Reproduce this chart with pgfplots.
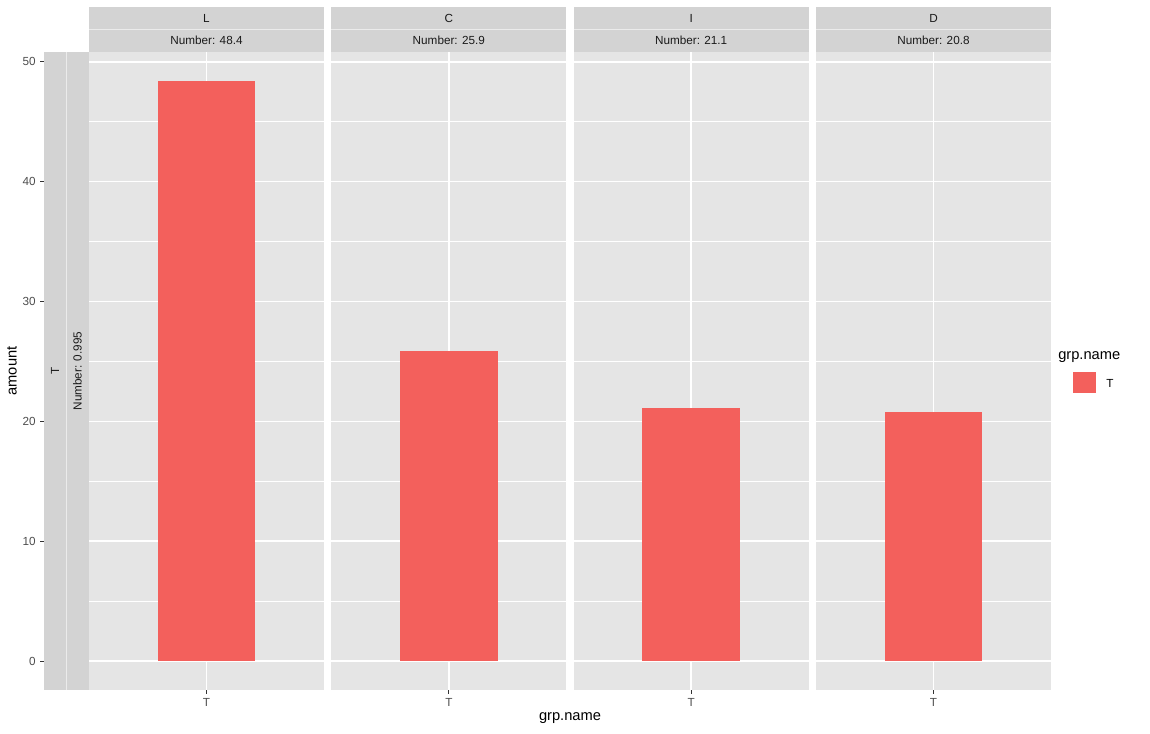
\documentclass[border=0pt]{standalone}
\usepackage{pgfplots}
\pgfplotsset{compat=1.18}
\usepackage{fontspec}
\setmainfont{Liberation Sans}
\definecolor{panelbg}{HTML}{E5E5E5}
\definecolor{stripbg}{HTML}{D3D3D3}
\definecolor{barcol}{HTML}{F3605C}
\definecolor{g30}{HTML}{4D4D4D}
\definecolor{g20}{HTML}{333333}
\definecolor{g10}{HTML}{1A1A1A}
\newcommand{\smf}{\fontsize{8.8}{10}\selectfont}
\newcommand{\lgf}{\fontsize{11}{13}\selectfont}
\pgfplotsset{panel/.style={
  scale only axis, width=176.25pt, height=478.5pt, anchor=south west,
  xmin=0.4, xmax=1.6, ymin=-2.42, ymax=50.82,
  axis lines*=left, axis line style={draw=none},
  axis background/.style={fill=panelbg},
  xtick={1}, xticklabels={T},
  ytick={0,10,...,50}, minor ytick={5,15,...,45}, yticklabels={},
  xmajorgrids, ymajorgrids, yminorgrids,
  major grid style={white, line width=1.07pt},
  minor grid style={white, line width=0.53pt},
  tick align=outside, major tick length=2.75pt, minor tick length=0pt,
  xtick style={g20, line width=0.53pt}, ytick style={draw=none},
  xticklabel style={font=\smf, text=g30},
}}
\begin{document}
\begin{tikzpicture}
\path[use as bounding box] (0,0) rectangle (862.5pt,-550.5pt);
% strips
\begin{scope}[x=0.75pt, y=-0.75pt]
  \foreach \L/\lab/\num in {89/L/48.4, 331.33/C/25.9, 573.67/I/21.1, 816/D/20.8}{
    \fill[stripbg] (\L,7) rectangle ({\L+235},52);
    \draw[white!55!stripbg, line width=0.5pt] (\L,29.5) -- ({\L+235},29.5);
    \node[font=\smf, text=g10] at ({\L+117.5},18.5) {\lab};
    \node[font=\smf, text=g10] at ({\L+117.5},40.5) {Number: \num};
  }
  \fill[stripbg] (44,52) rectangle (89,690);
  \draw[white!55!stripbg, line width=0.5pt] (66.5,52) -- (66.5,690);
  \node[font=\smf, text=g10, rotate=90] at (55,371) {T};
  \node[font=\smf, text=g10, rotate=90] at (77.5,371) {Number: 0.995};
  % titles
  \node[font=\lgf, rotate=90] at (12,371) {amount};
  \node[font=\lgf] at (570,718) {grp.name};
  % legend
  \node[font=\lgf, anchor=west, inner sep=0pt] at (1058,357) {grp.name};
  \fill[barcol] (1073,372) rectangle (1096,393);
  \node[font=\smf, anchor=west, inner sep=0pt] at (1106,383) {T};
\end{scope}
% y tick axis
\begin{axis}[scale only axis, width=33.75pt, height=478.5pt, anchor=south west,
  at={(33pt,-517.5pt)}, xmin=0, xmax=1, ymin=-2.42, ymax=50.82,
  axis lines*=left, axis line style={draw=none}, xtick=\empty,
  ytick={0,10,...,50}, tick align=outside, major tick length=2.75pt,
  ytick style={g20, line width=0.53pt},
  yticklabel style={font=\smf, text=g30},
  /pgf/number format/assume math mode=true]
  \addplot[draw=none] coordinates {(0.5,0)};
\end{axis}
\begin{axis}[panel, at={(66.75pt,-517.5pt)}]
  \addplot[ybar, bar width=0.5, fill=barcol, draw=none] coordinates {(1,48.4)};
\end{axis}
\begin{axis}[panel, at={(248.5pt,-517.5pt)}]
  \addplot[ybar, bar width=0.5, fill=barcol, draw=none] coordinates {(1,25.9)};
\end{axis}
\begin{axis}[panel, at={(430.25pt,-517.5pt)}]
  \addplot[ybar, bar width=0.5, fill=barcol, draw=none] coordinates {(1,21.1)};
\end{axis}
\begin{axis}[panel, at={(612pt,-517.5pt)}]
  \addplot[ybar, bar width=0.5, fill=barcol, draw=none] coordinates {(1,20.8)};
\end{axis}
\end{tikzpicture}
\end{document}
